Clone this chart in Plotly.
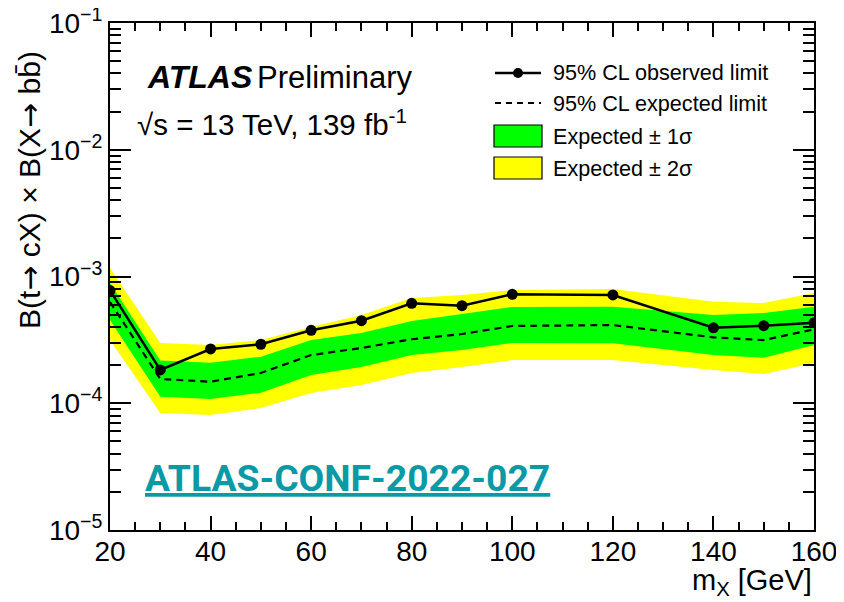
import plotly.graph_objects as go

# ---- data ----
mass = [20, 30, 40, 50, 60, 70, 80, 90, 100, 120, 140, 150, 160]
observed = [7.75e-4, 1.83e-4, 2.68e-4, 2.92e-4, 3.76e-4, 4.48e-4, 6.14e-4,
            5.88e-4, 7.24e-4, 7.15e-4, 3.94e-4, 4.09e-4, 4.32e-4]
expected = [6.29e-4, 1.553e-4, 1.479e-4, 1.733e-4, 2.40e-4, 2.73e-4, 3.20e-4,
            3.52e-4, 4.07e-4, 4.14e-4, 3.31e-4, 3.15e-4, 3.83e-4]
green_up = [8.89e-4, 2.17e-4, 2.09e-4, 2.33e-4, 3.15e-4, 3.58e-4, 4.46e-4,
            5.06e-4, 5.75e-4, 5.78e-4, 4.97e-4, 5.15e-4, 5.78e-4]
green_dn = [4.54e-4, 1.126e-4, 1.080e-4, 1.211e-4, 1.67e-4, 1.93e-4, 2.40e-4,
            2.63e-4, 2.99e-4, 2.97e-4, 2.40e-4, 2.29e-4, 2.88e-4]
yellow_up = [1.167e-3, 2.99e-4, 2.88e-4, 3.15e-4, 4.00e-4, 4.97e-4, 6.77e-4,
             7.15e-4, 7.83e-4, 7.97e-4, 6.32e-4, 6.18e-4, 7.41e-4]
yellow_dn = [3.15e-4, 8.38e-5, 8.08e-5, 9.17e-5, 1.205e-4, 1.393e-4, 1.733e-4,
             1.93e-4, 2.19e-4, 2.19e-4, 1.83e-4, 1.70e-4, 2.08e-4]

x_ticks = [20, 40, 60, 80, 100, 120, 140, 160]
y_ticks = [1e-5, 1e-4, 1e-3, 1e-2, 1e-1]
y_ticktext = ["10<sup>\u22125</sup>", "10<sup>\u22124</sup>", "10<sup>\u22123</sup>",
              "10<sup>\u22122</sup>", "10<sup>\u22121</sup>"]

legend_labels = ["95% CL observed limit", "95% CL expected limit",
                 "Expected \u00b1 1\u03c3", "Expected \u00b1 2\u03c3"]

GREEN = "#00ff00"
YELLOW = "#ffff00"
FONT = "Liberation Sans, Arial, sans-serif"

fig = go.Figure()

# yellow band
fig.add_trace(go.Scatter(x=mass, y=yellow_dn, mode="lines", line=dict(width=0),
                         showlegend=False, hoverinfo="skip"))
fig.add_trace(go.Scatter(x=mass, y=yellow_up, mode="lines", line=dict(width=0),
                         fill="tonexty", fillcolor=YELLOW, showlegend=False))
# green band
fig.add_trace(go.Scatter(x=mass, y=green_dn, mode="lines", line=dict(width=0),
                         showlegend=False, hoverinfo="skip"))
fig.add_trace(go.Scatter(x=mass, y=green_up, mode="lines", line=dict(width=0),
                         fill="tonexty", fillcolor=GREEN, showlegend=False))
# expected
fig.add_trace(go.Scatter(x=mass, y=expected, mode="lines",
                         line=dict(color="black", width=2.2, dash="7px,5px"),
                         showlegend=False))
# observed
fig.add_trace(go.Scatter(x=mass, y=observed, mode="lines+markers",
                         line=dict(color="black", width=2.5),
                         marker=dict(color="black", size=11),
                         showlegend=False))
# invisible trace carrying the overlay (minor-tick) axes
fig.add_trace(go.Scatter(x=[mass[0]], y=[observed[0]], xaxis="x2", yaxis="y2",
                         mode="markers", marker=dict(opacity=0), showlegend=False,
                         hoverinfo="skip"))

x_minor = [v for v in range(25, 160, 5) if v % 20 != 0]
y_minor = [k * 10.0 ** e for e in range(-5, -1) for k in range(2, 10)]

common = dict(ticks="inside", tickcolor="black", tickwidth=1.5, layer="above traces",
              showgrid=False, zeroline=False, automargin=False)

fig.update_layout(
    xaxis=dict(range=[20, 160], tickmode="array", tickvals=x_ticks, ticklen=14,
               showline=True, linecolor="black", linewidth=2, mirror="ticks",
               ticklabelstandoff=-5, ticklabeloverflow="allow",
               tickfont=dict(family=FONT, size=28, color="black"), **common),
    yaxis=dict(type="log", range=[-5, -1], tickmode="array", tickvals=y_ticks,
               ticktext=y_ticktext, ticklen=21, ticklabeloverflow="allow",
               showline=True, linecolor="black", linewidth=2, mirror="ticks",
               tickfont=dict(family=FONT, size=28, color="black"), **common),
    xaxis2=dict(range=[20, 160], overlaying="x", anchor="y2", side="bottom",
                tickmode="array", tickvals=x_minor, ticklen=8, mirror="ticks",
                showticklabels=False, showline=False, **common),
    yaxis2=dict(type="log", range=[-5, -1], overlaying="y", anchor="x2", side="left",
                tickmode="array", tickvals=y_minor, ticklen=11, mirror="ticks",
                showticklabels=False, showline=False, **common),
)

# the page adds an 8px body margin; figure is sized so the plot frame sits
# at x 110-814, y 23-530 of the window
W, H = 836, 594
L, R, T, B = 102, 30, 15, 72
FX0, FX1, FY0, FY1 = 110, 814, 23, 530


def px(xp):
    return (xp - FX0) / (FX1 - FX0)


def py(yp):
    return (FY1 - yp) / (FY1 - FY0)


ARROW = "<span style='font-family:DejaVu Sans'>\u2192</span>"
ann = []
# axis titles
ann.append(dict(text="B(t" + ARROW + " cX) \u00d7 B(X" + ARROW + " bb\u0304)",
                xref="paper", yref="paper",
                x=px(29), y=py(190), xanchor="center", yanchor="middle", textangle=-90,
                showarrow=False, font=dict(family=FONT, size=30, color="black")))
ann.append(dict(text="m<sub>X</sub> [GeV]", xref="paper", yref="paper",
                x=1.0, y=py(582), xanchor="right", yanchor="middle",
                showarrow=False, font=dict(family=FONT, size=29, color="black")))
# ATLAS label
ann.append(dict(text="<b><i>ATLAS</i></b>", xref="paper", yref="paper",
                x=px(145), y=py(77), xanchor="left", yanchor="middle",
                showarrow=False, font=dict(family=FONT, size=32, color="black")))
ann.append(dict(text="Preliminary", xref="paper", yref="paper",
                x=px(255), y=py(77), xanchor="left", yanchor="middle",
                showarrow=False, font=dict(family=FONT, size=31, color="black")))
ann.append(dict(text="\u221as = 13 TeV, 139 fb<sup>-1</sup>", xref="paper", yref="paper",
                x=px(135), y=py(122), xanchor="left", yanchor="middle",
                showarrow=False, font=dict(family=FONT, size=29.5, color="black")))
# conf note
ann.append(dict(text="<b>ATLAS-CONF-2022-027</b>", xref="paper", yref="paper",
                x=px(143), y=py(478), xanchor="left", yanchor="middle",
                showarrow=False,
                font=dict(family="Roboto, sans-serif", size=37.3, color="#0a9aa6",
                          lineposition="under")))

# legend text
rows = [73, 103, 136, 168]
for lab, ry in zip(legend_labels, rows):
    ann.append(dict(text=lab, xref="paper", yref="paper", x=px(551), y=py(ry),
                    xanchor="left", yanchor="middle", showarrow=False,
                    font=dict(family=FONT, size=21.6, color="black")))

shapes = []
# legend symbols
shapes.append(dict(type="line", xref="paper", yref="paper", x0=px(495), x1=px(541),
                   y0=py(73), y1=py(73), line=dict(color="black", width=2.5)))
shapes.append(dict(type="circle", xref="paper", yref="paper", x0=px(513), x1=px(523),
                   y0=py(78), y1=py(68), fillcolor="black", line=dict(color="black", width=0)))
shapes.append(dict(type="line", xref="paper", yref="paper", x0=px(495), x1=px(541),
                   y0=py(103), y1=py(103), line=dict(color="black", width=2, dash="6px,5px")))
shapes.append(dict(type="rect", xref="paper", yref="paper", x0=px(494), x1=px(542),
                   y0=py(147), y1=py(125), fillcolor=GREEN, line=dict(color="black", width=1.2)))
shapes.append(dict(type="rect", xref="paper", yref="paper", x0=px(494), x1=px(542),
                   y0=py(179), y1=py(157), fillcolor=YELLOW, line=dict(color="black", width=1.2)))

fig.update_layout(width=W, height=H, margin=dict(l=L, r=R, t=T, b=B),
                  plot_bgcolor="white", paper_bgcolor="white",
                  annotations=ann, shapes=shapes, showlegend=False)

fig.write_html("out.html")
